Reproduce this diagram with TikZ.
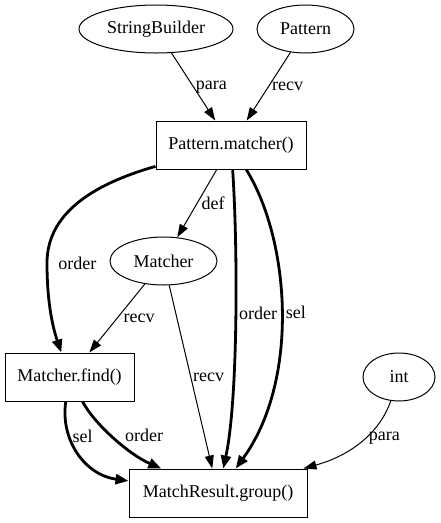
\documentclass[tikz,border=0pt]{standalone}
\usepackage{fontspec}
\setmainfont{Liberation Serif}
\usetikzlibrary{shapes.geometric,arrows.meta}
\begin{document}
\begin{tikzpicture}[x=1pt,y=-1pt,
  every node/.style={font=\fontsize{18}{20}\selectfont},
  ell/.style={draw, ellipse, inner sep=0pt, line width=1pt, minimum height=48pt},
  box/.style={draw, rectangle, inner sep=0pt, line width=1pt, minimum height=48pt},
  lab/.style={inner sep=1pt, anchor=west},
  thinedge/.style={line width=1pt, -{Triangle[length=13pt,width=9pt]}},
  thickedge/.style={line width=2.8pt, -{Triangle[length=13pt,width=10pt]}},
]
\useasboundingbox (0,0) rectangle (441,523);

\node[ell, minimum width=154pt] (sb) at (156,29) {StringBuilder};
\node[ell, minimum width=97pt] (pat) at (305.5,29) {Pattern};
\node[box, minimum width=150pt] (pm) at (231,145) {Pattern.matcher()};
\node[ell, minimum width=107pt] (mat) at (163.5,261) {Matcher};
\node[box, minimum width=129pt] (mf) at (69.5,377) {Matcher.find()};
\node[ell, minimum width=72pt] (int) at (399,377) {int};
\node[box, minimum width=178pt] (mr) at (218,493) {MatchResult.group()};

\draw[thinedge] (sb) -- node[lab, xshift=1pt]{para} (pm);
\draw[thinedge] (pat) -- node[lab, xshift=2pt]{recv} (pm);
\draw[thinedge] (pm) -- node[lab, xshift=3pt]{def} (mat);
\draw[thinedge] (mat) -- node[lab, xshift=5pt]{recv} (mf);
\draw[thinedge] (mat) -- node[lab, xshift=1pt]{recv} (mr);

\draw[thickedge] (pm) .. controls (90,185) and (47,215) .. (47,263)
  node[lab, xshift=9pt]{order} .. controls (47,300) and (52,325) .. (mf);
\draw[thickedge] (pm) .. controls (238,250) and (238,400) .. node[lab, pos=0.47, xshift=1pt]{order} (mr);
\draw[thickedge] (pm) .. controls (290,240) and (300,380) .. node[lab, pos=0.5, xshift=2pt]{sel} (mr);
\draw[thickedge] (mf) .. controls (60,440) and (85,475) .. node[lab, pos=0.32, xshift=1pt]{sel} (mr);
\draw[thickedge] (mf) .. controls (95,425) and (130,455) .. node[lab, pos=0.45, xshift=12pt]{order} (mr);
\draw[thinedge] (int) .. controls (380,432) and (352,455) .. node[lab, pos=0.45, xshift=2pt]{para} ([xshift=-4pt]mr.north east);
\end{tikzpicture}
\end{document}
